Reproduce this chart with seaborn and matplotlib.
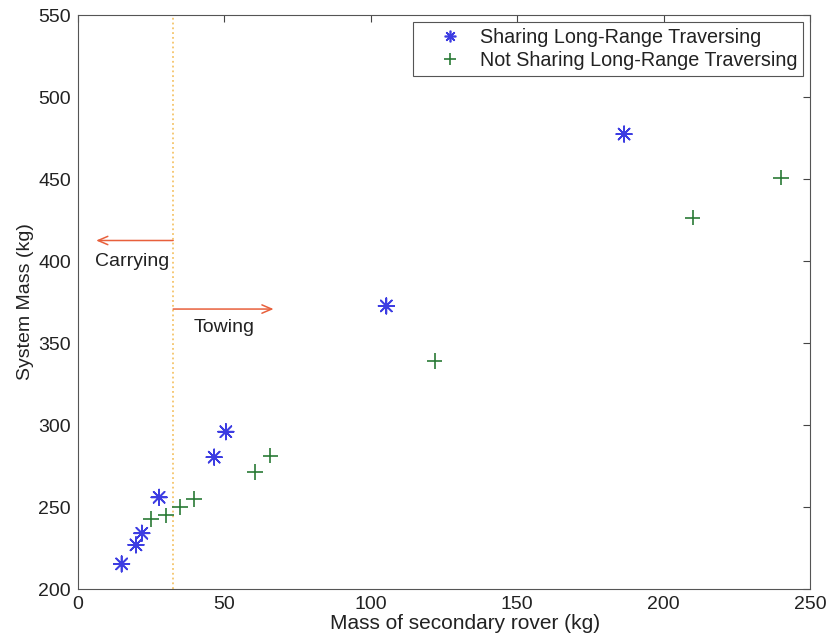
import matplotlib
matplotlib.use("Agg")
import matplotlib.pyplot as plt
import seaborn as sns
import pandas as pd

sharing_x = [14.9, 19.8, 21.8, 27.7, 46.5, 50.5, 105.3, 186.5, 214.8]
sharing_y = [215.3, 226.9, 234.0, 255.9, 280.4, 295.9, 372.6, 477.4, 517.6]
not_x = [24.9, 30.0, 34.9, 39.7, 60.5, 65.7, 121.8, 209.9, 240.1]
not_y = [242.8, 244.9, 250.0, 255.0, 271.4, 281.4, 338.9, 426.4, 450.9]
labels = ["Sharing Long-Range Traversing", "Not Sharing Long-Range Traversing"]
x_ticks = [0, 50, 100, 150, 200, 250]
y_ticks = [200, 250, 300, 350, 400, 450, 500, 550]
divider_x = 32.5

sns.set_style("white")
plt.rcParams['font.family'] = ['Liberation Sans', 'DejaVu Sans']

df = pd.DataFrame({
    "x": sharing_x + not_x,
    "y": sharing_y + not_y,
    "group": [labels[0]] * len(sharing_x) + [labels[1]] * len(not_x),
})

fig = plt.figure(figsize=(8.3, 6.42), dpi=100)
ax = fig.add_axes([78 / 830, 1 - 589 / 642, (810 - 78) / 830, (589 - 15) / 642])

sns.scatterplot(data=df, x="x", y="y", hue="group", style="group",
                palette={labels[0]: "#3d3de2", labels[1]: "#2a7a36"},
                markers={labels[0]: (8, 2, 0), labels[1]: "+"},
                s=125, linewidth=1.2, ax=ax, zorder=3)

ax.axvline(divider_x, color="#f4c46a", linestyle=":", linewidth=1.3, zorder=1)
ax.annotate("", xy=(6.2, 412.5), xytext=(divider_x, 412.5),
            arrowprops=dict(arrowstyle="->,head_length=0.7,head_width=0.3",
                            color="#e8603c", lw=1.1, shrinkA=0, shrinkB=0))
ax.annotate("", xy=(66.8, 370.7), xytext=(divider_x, 370.7),
            arrowprops=dict(arrowstyle="->,head_length=0.7,head_width=0.3",
                            color="#e8603c", lw=1.1, shrinkA=0, shrinkB=0))
ax.text(5.8, 399.7, "Carrying", fontsize=14, color="#222222", va="center", ha="left")
ax.text(39.4, 359.7, "Towing", fontsize=14, color="#222222", va="center", ha="left")

ax.set_xlim(0, 250)
ax.set_ylim(200, 550)
ax.set_xticks(x_ticks)
ax.set_yticks(y_ticks)
ax.tick_params(direction="in", length=5, top=True, right=True, labelsize=14,
               color="#444444", labelcolor="#222222", width=0.8)
ax.tick_params(axis="x", pad=5)
ax.tick_params(axis="y", pad=5)
for sp in ax.spines.values():
    sp.set_visible(True)
    sp.set_color("#555555")
    sp.set_linewidth(0.8)
ax.set_xlabel("Mass of secondary rover (kg)", fontsize=15, color="#222222")
ax.xaxis.set_label_coords(0.529, -0.043)
ax.set_ylabel("System Mass (kg)", fontsize=14, color="#222222", labelpad=3)

handles, lbls = ax.get_legend_handles_labels()
ax.get_legend().remove()
leg = ax.legend(handles, lbls, loc="upper right", bbox_to_anchor=(0.9904, 0.9878), fontsize=14.2,
                frameon=True, fancybox=False, edgecolor="#555555", framealpha=1,
                borderpad=0.3, handlelength=3.2, handletextpad=-0.1, labelspacing=0.22,
                borderaxespad=0.0, markerscale=0.75)
leg.get_frame().set_linewidth(0.8)
leg.set_zorder(10)
for t in leg.get_texts():
    t.set_color("#222222")

fig.savefig("out.png", dpi=100)
